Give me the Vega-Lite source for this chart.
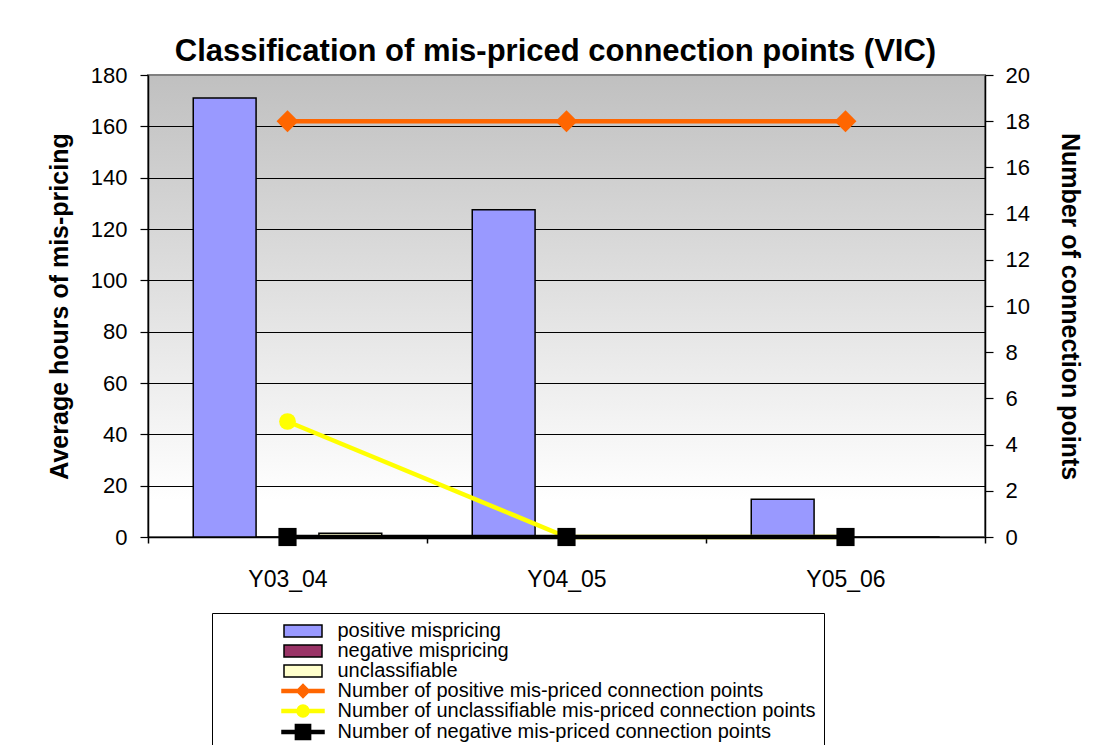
{
  "$schema": "https://vega.github.io/schema/vega-lite/v6.json",
  "width": 837,
  "height": 462,
  "autosize": "none",
  "padding": {"left": 148, "top": 75, "right": 112, "bottom": 208},
  "background": "white",
  "view": {
    "fill": {"gradient": "linear", "x1": 0, "y1": 0, "x2": 0, "y2": 1,
      "stops": [{"offset": 0, "color": "#c0c0c0"}, {"offset": 0.92, "color": "#ffffff"}, {"offset": 1, "color": "#ffffff"}]},
    "stroke": "#808080",
    "strokeWidth": 2
  },
  "config": {
    "font": "Liberation Sans",
    "axis": {"domainColor": "black", "tickColor": "black", "labelColor": "black", "titleColor": "black", "labelFont": "Liberation Sans", "titleFont": "Liberation Sans"},
    "legend": {"labelFont": "Liberation Sans", "titleFont": "Liberation Sans", "symbolStrokeWidth": 1.5}
  },
  "title": {
    "text": "Classification of mis-priced connection points (VIC)",
    "font": "Liberation Sans", "fontSize": 31, "fontWeight": "bold", "color": "black",
    "anchor": "middle", "frame": "group", "offset": -4, "dx": -11
  },
  "datasets": {
    "bars": [
      {"year": "Y03_04", "series": "positive mispricing", "hours": 171},
      {"year": "Y03_04", "series": "negative mispricing", "hours": 0},
      {"year": "Y03_04", "series": "unclassifiable", "hours": 1.5},
      {"year": "Y04_05", "series": "positive mispricing", "hours": 127.5},
      {"year": "Y04_05", "series": "negative mispricing", "hours": 0},
      {"year": "Y04_05", "series": "unclassifiable", "hours": 0},
      {"year": "Y05_06", "series": "positive mispricing", "hours": 14.7},
      {"year": "Y05_06", "series": "negative mispricing", "hours": 0},
      {"year": "Y05_06", "series": "unclassifiable", "hours": 0}
    ],
    "lines": [
      {"year": "Y03_04", "series": "Number of positive mis-priced connection points", "count": 18},
      {"year": "Y04_05", "series": "Number of positive mis-priced connection points", "count": 18},
      {"year": "Y05_06", "series": "Number of positive mis-priced connection points", "count": 18},
      {"year": "Y03_04", "series": "Number of unclassifiable mis-priced connection points", "count": 5},
      {"year": "Y04_05", "series": "Number of unclassifiable mis-priced connection points", "count": 0},
      {"year": "Y05_06", "series": "Number of unclassifiable mis-priced connection points", "count": 0},
      {"year": "Y03_04", "series": "Number of negative mis-priced connection points", "count": 0},
      {"year": "Y04_05", "series": "Number of negative mis-priced connection points", "count": 0},
      {"year": "Y05_06", "series": "Number of negative mis-priced connection points", "count": 0}
    ]
  },
  "layer": [
    {
      "data": {"name": "bars"},
      "mark": {"type": "bar", "stroke": "black", "strokeWidth": 1.5, "opacity": 1},
      "encoding": {
        "x": {"field": "year", "type": "nominal", "sort": null,
          "scale": {"paddingInner": 0, "paddingOuter": 0},
          "axis": {"title": null, "labelAngle": 0, "labelFontSize": 23, "tickSize": 6, "tickBand": "extent", "labelPadding": 25, "domainWidth": 1.5, "tickWidth": 1.5}},
        "xOffset": {"field": "series", "type": "nominal", "sort": null,
          "scale": {"domain": ["positive mispricing", "negative mispricing", "unclassifiable"], "paddingInner": 0, "paddingOuter": 0.72}},
        "y": {"field": "hours", "type": "quantitative",
          "scale": {"domain": [0, 180], "nice": false, "zero": true},
          "axis": {"title": "Average hours of mis-pricing", "titleFontSize": 25, "titleFontWeight": "bold", "titlePadding": 18,
            "values": [0, 20, 40, 60, 80, 100, 120, 140, 160, 180], "labelFontSize": 22, "tickSize": 8, "labelPadding": 13,
            "grid": true, "gridColor": {"condition": {"test": "datum.value == 180", "value": "#808080"}, "value": "black"}, "gridWidth": 1.2,
            "domainWidth": 1.5, "tickWidth": 1.2}},
        "fill": {"field": "series", "type": "nominal",
          "scale": {
            "domain": ["positive mispricing", "negative mispricing", "unclassifiable", "Number of positive mis-priced connection points", "Number of unclassifiable mis-priced connection points", "Number of negative mis-priced connection points"],
            "range": ["#9999ff", "#993366", "#ffffcc", "#ff6600", "#ffff00", "#000000"]},
          "legend": {"title": "\u2003\u2003\u2003\u2003", "titleOrient": "right", "titleFontSize": 16, "titlePadding": 0, "titleLimit": 200,
            "orient": "none", "legendX": 64, "legendY": 538, "direction": "vertical",
            "padding": 8, "strokeColor": "black", "fillColor": "white",
            "labelFontSize": 20, "labelColor": "black", "labelLimit": 700, "symbolSize": 256, "symbolOffset": 73, "labelOffset": 24.5, "rowPadding": 0, "symbolStrokeWidth": 1.5}}
      }
    },
    {
      "data": {"name": "lines"},
      "mark": {"type": "line", "strokeWidth": 4.5},
      "encoding": {
        "x": {"field": "year", "type": "nominal", "sort": null},
        "y": {"field": "count", "type": "quantitative",
          "scale": {"domain": [0, 20], "nice": false},
          "axis": {"orient": "right", "title": "Number of connection points", "titleFontSize": 25, "titleFontWeight": "bold", "titlePadding": 27,
            "values": [0, 2, 4, 6, 8, 10, 12, 14, 16, 18, 20], "labelFontSize": 22, "tickSize": 8, "labelPadding": 12, "grid": false,
            "domainWidth": 1.5, "tickWidth": 1.2}},
        "stroke": {"field": "series", "type": "nominal",
          "scale": {
            "domain": ["positive mispricing", "negative mispricing", "unclassifiable", "Number of positive mis-priced connection points", "Number of unclassifiable mis-priced connection points", "Number of negative mis-priced connection points"],
            "range": ["#000000", "#000000", "#000000", "#ff6600", "#ffff00", "#000000"]},
          "legend": {"title": "\u2003\u2003\u2003\u2003", "titleOrient": "right", "titleFontSize": 16, "titlePadding": 0, "titleLimit": 200,
            "orient": "none", "legendX": 64, "legendY": 538, "direction": "vertical",
            "padding": 8, "strokeColor": "black", "fillColor": "white",
            "labelFontSize": 20, "labelColor": "black", "labelLimit": 700, "symbolSize": 256, "symbolOffset": 73, "labelOffset": 24.5, "rowPadding": 0, "symbolStrokeWidth": 1.5}}
      }
    },
    {
      "data": {"name": "lines"},
      "mark": {"type": "point", "filled": true, "size": 0, "opacity": 1},
      "encoding": {
        "x": {"field": "year", "type": "nominal", "sort": null},
        "y": {"field": "count", "type": "quantitative", "scale": {"domain": [0, 20], "nice": false}, "axis": null},
        "fill": {"field": "series", "type": "nominal"},
        "shape": {"field": "series", "type": "nominal",
          "scale": {
            "domain": ["positive mispricing", "negative mispricing", "unclassifiable", "Number of positive mis-priced connection points", "Number of unclassifiable mis-priced connection points", "Number of negative mis-priced connection points"],
            "range": ["M-2.375,-0.75H2.375V0.75H-2.375Z", "M-2.375,-0.75H2.375V0.75H-2.375Z", "M-2.375,-0.75H2.375V0.75H-2.375Z",
              "M-2.625,-0.2H2.625V0.2H-2.625ZM-0.825,0L0,-0.825L0.825,0L0,0.825Z",
              "M-2.625,-0.2H2.625V0.2H-2.625ZM-0.75,0A0.75,0.75 0 1,1 0.75,0A0.75,0.75 0 1,1 -0.75,0Z",
              "M-2.625,-0.2H2.625V0.2H-2.625ZM-0.95,-0.95H0.95V0.95H-0.95Z"]},
          "legend": {"title": "\u2003\u2003\u2003\u2003", "titleOrient": "right", "titleFontSize": 16, "titlePadding": 0, "titleLimit": 200,
            "orient": "none", "legendX": 64, "legendY": 538, "direction": "vertical",
            "padding": 8, "strokeColor": "black", "fillColor": "white",
            "labelFontSize": 20, "labelColor": "black", "labelLimit": 700, "symbolSize": 256, "symbolOffset": 73, "labelOffset": 24.5, "rowPadding": 0, "symbolStrokeWidth": 1.5}}
      }
    },
    {
      "data": {"name": "lines"},
      "transform": [{"filter": "datum.series == 'Number of positive mis-priced connection points'"}],
      "mark": {"type": "point", "shape": "diamond", "filled": true, "color": "#ff6600", "size": 480, "opacity": 1},
      "encoding": {
        "x": {"field": "year", "type": "nominal", "sort": null},
        "y": {"field": "count", "type": "quantitative", "scale": {"domain": [0, 20], "nice": false}, "axis": null}
      }
    },
    {
      "data": {"name": "lines"},
      "transform": [{"filter": "datum.series == 'Number of unclassifiable mis-priced connection points'"}],
      "mark": {"type": "point", "shape": "circle", "filled": true, "color": "#ffff00", "size": 280, "opacity": 1},
      "encoding": {
        "x": {"field": "year", "type": "nominal", "sort": null},
        "y": {"field": "count", "type": "quantitative", "scale": {"domain": [0, 20], "nice": false}, "axis": null}
      }
    },
    {
      "data": {"name": "lines"},
      "transform": [{"filter": "datum.series == 'Number of negative mis-priced connection points'"}],
      "mark": {"type": "point", "shape": "square", "filled": true, "color": "#000000", "size": 330, "opacity": 1},
      "encoding": {
        "x": {"field": "year", "type": "nominal", "sort": null},
        "y": {"field": "count", "type": "quantitative", "scale": {"domain": [0, 20], "nice": false}, "axis": null}
      }
    }
  ],
  "resolve": {"scale": {"y": "independent"}}
}
